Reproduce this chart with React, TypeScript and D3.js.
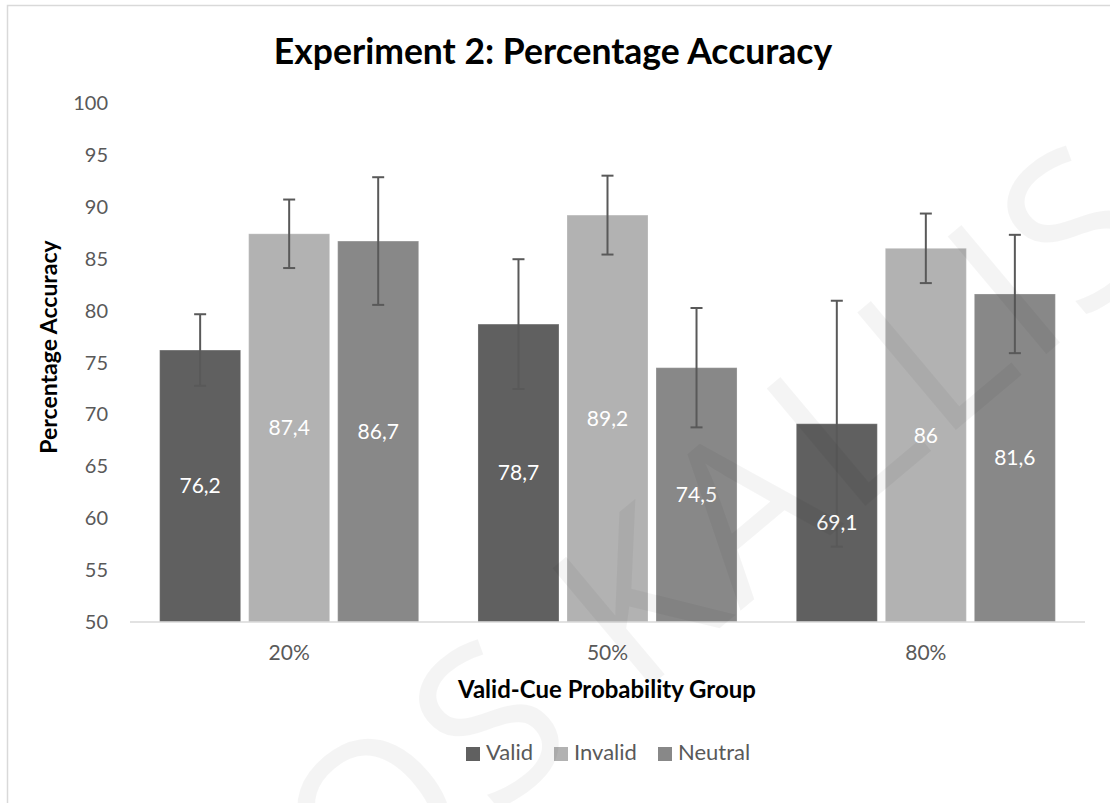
import React from "react";
import * as d3 from "d3";

const categories = ["20%", "50%", "80%"];
const seriesNames = ["Valid", "Invalid", "Neutral"];
const validValues = [76.2, 78.7, 69.1];
const invalidValues = [87.4, 89.2, 86];
const neutralValues = [86.7, 74.5, 81.6];
const validErrors = [3.45, 6.25, 11.85];
const invalidErrors = [3.3, 3.8, 3.35];
const neutralErrors = [6.15, 5.75, 5.7];
const yTicks = [50, 55, 60, 65, 70, 75, 80, 85, 90, 95, 100];
const seriesColors = ["#606060", "#b2b2b2", "#888888"];

const seriesValues = [validValues, invalidValues, neutralValues];
const seriesErrors = [validErrors, invalidErrors, neutralErrors];

const W = 1110;
const H = 803;
const FONT = "Lato, 'Open Sans', sans-serif";

export default function App() {
  const y = d3.scaleLinear().domain([50, 100]).range([622, 103]);
  const x0 = d3.scaleBand<string>().domain(categories).range([130, 1085]).padding(0);
  const x1 = d3
    .scaleBand<string>()
    .domain(seriesNames)
    .range([0, x0.bandwidth()])
    .paddingInner(0.09)
    .paddingOuter(0.333);
  const fmt = (v: number) => String(v).replace(".", ",");
  const capHalf = 6;

  const legendItems = [
    { name: "Valid", sx: 466, tx: 486 },
    { name: "Invalid", sx: 554, tx: 574 },
    { name: "Neutral", sx: 658, tx: 678 },
  ];

  return (
    <svg
      width={W}
      height={H}
      style={{ position: "absolute", left: 0, top: 0, background: "#fff" }}
      fontFamily={FONT}
    >
      <rect x={0} y={0} width={W} height={H} fill="#fff" />
      <rect x={7.5} y={5.5} width={1300} height={1000} fill="none" stroke="#d9d9d9" strokeWidth={1.5} />

      <text x={553} y={64} textAnchor="middle" fontSize={35.5} fontWeight="bold" fill="#000">
        Experiment 2: Percentage Accuracy
      </text>

      {yTicks.map((t) => (
        <text key={t} x={108} y={y(t)} dy="0.35em" textAnchor="end" fontSize={20} fill="#595959">
          {t}
        </text>
      ))}

      <text
        transform={`translate(49,347) rotate(-90)`}
        textAnchor="middle"
        dy="0.35em"
        fontSize={23}
        fontWeight="bold"
        fill="#000"
      >
        Percentage Accuracy
      </text>

      {categories.map((c, ci) => (
        <g key={c} transform={`translate(${x0(c)},0)`}>
          {seriesNames.map((s, si) => {
            const v = seriesValues[si][ci];
            const bx = x1(s)!;
            const bw = x1.bandwidth();
            return (
              <rect
                key={s}
                x={bx}
                y={y(v)}
                width={bw}
                height={y(50) - y(v)}
                fill={seriesColors[si]}
                stroke="#ffffff"
                strokeOpacity={0.25}
                strokeWidth={1}
              />
            );
          })}
          {seriesNames.map((s, si) => {
            const v = seriesValues[si][ci];
            const e = seriesErrors[si][ci];
            const cx = x1(s)! + x1.bandwidth() / 2;
            return (
              <g key={s} stroke="#595959" strokeWidth={2}>
                <line x1={cx} x2={cx} y1={y(v + e)} y2={y(v - e)} />
                <line x1={cx - capHalf} x2={cx + capHalf} y1={y(v + e)} y2={y(v + e)} />
                <line x1={cx - capHalf} x2={cx + capHalf} y1={y(v - e)} y2={y(v - e)} />
              </g>
            );
          })}
          {seriesNames.map((s, si) => {
            const v = seriesValues[si][ci];
            const cx = x1(s)! + x1.bandwidth() / 2;
            return (
              <text
                key={s}
                x={cx}
                y={(y(v) + y(50)) / 2}
                dy="0.35em"
                textAnchor="middle"
                fontSize={21}
                fill="#ffffff"
              >
                {fmt(v)}
              </text>
            );
          })}
          <text
            x={x0.bandwidth() / 2}
            y={653}
            dy="0.35em"
            textAnchor="middle"
            fontSize={21}
            fill="#595959"
          >
            {c}
          </text>
        </g>
      ))}

      <line x1={130} x2={1085} y1={y(50)} y2={y(50)} stroke="#d9d9d9" strokeWidth={1.5} />

      <text x={607} y={690} dy="0.35em" textAnchor="middle" fontSize={24} fontWeight="bold" fill="#000">
        Valid-Cue Probability Group
      </text>

      {legendItems.map((l, i) => (
        <g key={l.name}>
          <rect x={l.sx} y={747} width={14} height={14} fill={seriesColors[i]} />
          <text x={l.tx} y={752} dy="0.35em" fontSize={22} fill="#595959">
            {l.name}
          </text>
        </g>
      ))}

      {/* watermark */}
      <text
        x={0}
        y={0}
        transform="translate(360,930) rotate(-40)"
        fontSize={215}
        fontFamily="'Open Sans', sans-serif"
        fill="#000"
        fillOpacity={0.045}
        letterSpacing={6}
      >
        OS KALLIS
      </text>
    </svg>
  );
}
